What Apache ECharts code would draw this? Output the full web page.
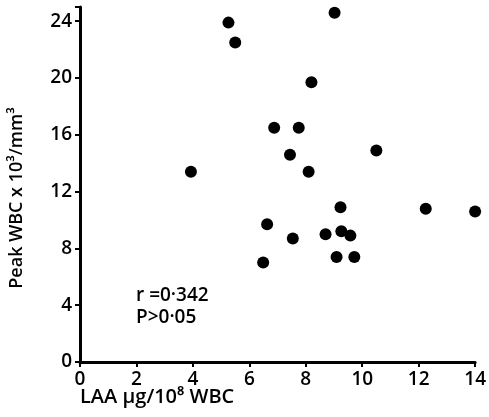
<!DOCTYPE html>
<html><head><meta charset="utf-8">
<script src="https://cdn.jsdelivr.net/npm/echarts@6/dist/echarts.min.js"></script>
<style>html,body{margin:0;padding:0;background:#fff}#c{width:489px;height:417px}</style>
</head><body><div id="c"></div>
<script>
const laa = [5.26, 5.5, 3.93, 9.02, 8.2, 6.88, 7.75, 7.44, 8.1, 10.5, 9.23, 12.25, 14.0, 6.63, 7.54, 8.7, 9.26, 9.58, 9.09, 9.72, 6.49];
const peakWbc = [23.9, 22.5, 13.4, 24.6, 19.7, 16.5, 16.5, 14.6, 13.4, 14.9, 10.9, 10.8, 10.6, 9.7, 8.7, 9.0, 9.2, 8.9, 7.4, 7.4, 7.0];
const xTicks = [0, 2, 4, 6, 8, 10, 12, 14];
const yTicks = [0, 4, 8, 12, 16, 20, 24];
const stats = ['r =0·342', 'P>0·05'];
const xTitle = 'LAA µg/10⁸ WBC';
const yTitle = 'Peak WBC x 10³/mm³';

const points = laa.map((x, i) => [x, peakWbc[i]]);
const font = '"Open Sans", Lato, sans-serif';
const chart = echarts.init(document.getElementById('c'));
chart.setOption({
  animation: false,
  grid: {left: 80, right: 10, top: 7, bottom: 55, containLabel: false},
  xAxis: {
    type: 'value', min: 0, max: 14, interval: 2,
    axisLine: {lineStyle: {color: '#000', width: 3}},
    axisTick: {show: true, length: 5, lineStyle: {color: '#000', width: 2}},
    axisLabel: {color: '#000', fontSize: 19, fontWeight: 600, fontFamily: font, margin: 8,
      formatter: v => xTicks.includes(v) ? String(v) : ''},
    splitLine: {show: false}
  },
  yAxis: {
    type: 'value', min: 0, max: 25, interval: 4,
    axisLine: {show: true, lineStyle: {color: '#000', width: 3}},
    axisTick: {show: true, length: 5, lineStyle: {color: '#000', width: 2}},
    axisLabel: {color: '#000', fontSize: 19, fontWeight: 600, fontFamily: font, margin: 8,
      formatter: v => yTicks.includes(v) ? String(v) : ''},
    splitLine: {show: false}
  },
  series: [{
    type: 'scatter', data: points, symbol: 'circle', symbolSize: 12,
    itemStyle: {color: '#000', opacity: 1}
  }],
  graphic: [
    {type: 'text', left: 80, top: 387, style: {text: xTitle, font: '600 20px ' + font, fill: '#000'}},
    {type: 'text', x: 17, y: 198, rotation: Math.PI / 2,
      style: {text: yTitle, font: '600 18px ' + font, fill: '#000', align: 'center', verticalAlign: 'middle'}},
    {type: 'text', left: 136, top: 285, style: {text: stats.join('\n'), font: '600 19px ' + font, fill: '#000', lineHeight: 22}}
  ]
});
</script></body></html>
